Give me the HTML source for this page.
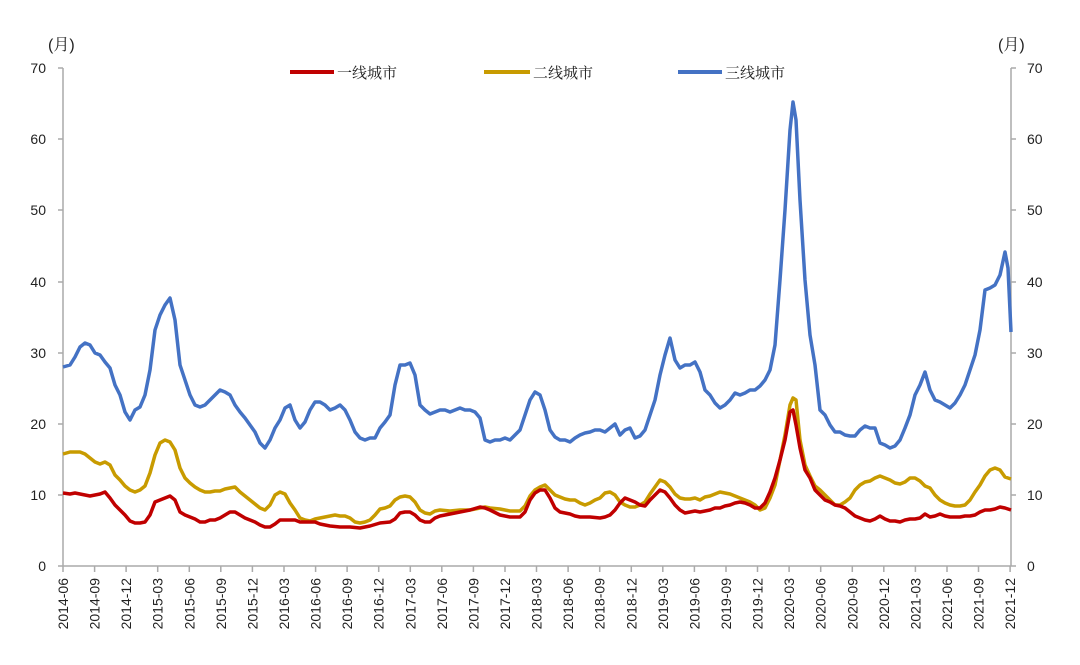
<!DOCTYPE html>
<html><head><meta charset="utf-8"><style>
body{margin:0;background:#fff}
svg text{font-family:"Liberation Sans","Noto Serif CJK SC",sans-serif;fill:#222}
</style></head><body>
<svg width="1080" height="660" viewBox="0 0 1080 660" xmlns="http://www.w3.org/2000/svg">
<g stroke="#aaa" stroke-width="1.5" fill="none">
<line x1="63" y1="68" x2="63" y2="566"/>
<line x1="1011" y1="68" x2="1011" y2="566"/>
<line x1="58" y1="566" x2="1016" y2="566"/>
<path d="M58 68H63M58 139H63M58 210H63M58 282H63M58 353H63M58 424H63M58 495H63M1011 68H1016M1011 139H1016M1011 210H1016M1011 282H1016M1011 353H1016M1011 424H1016M1011 495H1016"/>
<path id="xt" d=""/>
</g>
<g font-size="14" text-anchor="end">
<text x="46" y="73">70</text><text x="46" y="144">60</text><text x="46" y="215">50</text><text x="46" y="287">40</text><text x="46" y="358">30</text><text x="46" y="429">20</text><text x="46" y="500">10</text><text x="46" y="571">0</text>
</g>
<g font-size="14">
<text x="1027" y="73">70</text><text x="1027" y="144">60</text><text x="1027" y="215">50</text><text x="1027" y="287">40</text><text x="1027" y="358">30</text><text x="1027" y="429">20</text><text x="1027" y="500">10</text><text x="1027" y="571">0</text>
</g>
<text x="48" y="50" font-size="16">(月)</text>
<text x="998" y="50" font-size="16">(月)</text>
<g id="xl" font-size="14"></g>
<line x1="290" y1="72" x2="334" y2="72" stroke="#c00000" stroke-width="4"/>
<text x="337" y="78" font-size="15">一线城市</text>
<line x1="484" y1="72" x2="530" y2="72" stroke="#c89b00" stroke-width="4"/>
<text x="533" y="78" font-size="15">二线城市</text>
<line x1="678" y1="72" x2="722" y2="72" stroke="#4472c4" stroke-width="4"/>
<text x="725" y="78" font-size="15">三线城市</text>
<g fill="none" stroke-width="3.5" stroke-linejoin="round">
<polyline stroke="#4472c4" points="63,367 70,365 75,357 80,347 85,343 90,345 95,353 100,355 105,362 110,368 115,385 120,395 125,412 130,420 135,410 140,407 145,395 150,370 155,330 160,315 165,305 170,298 175,320 180,365 185,380 190,395 195,405 200,407 205,405 210,400 215,395 220,390 225,392 230,395 235,405 240,412 245,418 250,425 255,432 260,443 265,448 270,440 275,428 280,420 285,408 290,405 295,420 300,428 305,422 310,410 315,402 320,402 325,405 330,410 335,408 340,405 345,410 350,420 355,432 360,438 365,440 370,438 375,438 380,428 385,422 390,415 395,385 400,365 405,365 410,363 415,375 420,405 425,410 430,414 435,412 440,410 445,410 450,412 455,410 460,408 465,410 470,410 475,412 480,418 485,440 490,442 495,440 500,440 505,438 510,440 515,435 520,430 525,415 530,400 535,392 540,395 545,410 550,430 555,437 560,440 565,440 570,442 575,438 580,435 585,433 590,432 595,430 600,430 605,432 610,428 615,424 620,435 625,430 630,428 635,438 640,436 645,430 650,415 655,400 660,375 665,355 670,338 675,360 680,368 685,365 690,365 695,362 700,372 705,390 710,395 715,403 720,408 725,405 730,400 735,393 740,395 745,393 750,390 755,390 760,386 765,380 770,370 775,345 780,280 785,210 790,130 793,102 796,120 800,200 805,280 810,335 815,365 820,410 825,415 830,425 835,432 840,432 845,435 850,436 855,436 860,430 865,426 870,428 875,428 880,443 885,445 890,448 895,446 900,440 905,428 910,415 915,395 920,385 925,372 930,390 935,400 940,402 945,405 950,408 955,403 960,395 965,385 970,370 975,355 980,330 985,290 990,288 995,285 1000,275 1005,252 1008,268 1011,332"/>
<polyline stroke="#c89b00" points="63,454 70,452 80,452 85,454 90,458 95,462 100,464 105,462 110,465 115,475 120,480 125,486 130,490 135,492 140,490 145,486 150,473 155,455 160,443 165,440 170,442 175,450 180,468 185,478 190,483 195,487 200,490 205,492 210,492 215,491 220,491 225,489 230,488 235,487 240,492 245,496 250,500 255,504 260,508 265,510 270,505 275,495 280,492 285,494 290,503 295,510 300,518 305,520 310,521 315,519 320,518 325,517 330,516 335,515 340,516 345,516 350,518 355,522 360,523 365,522 370,520 375,515 380,509 385,508 390,506 395,500 400,497 405,496 410,497 415,502 420,510 425,513 430,514 435,511 440,510 450,511 460,510 470,510 480,508 485,507 490,508 500,509 510,511 520,511 525,506 530,496 535,490 540,487 545,485 550,490 555,495 560,497 565,499 570,500 575,500 580,503 585,505 590,503 595,500 600,498 605,493 610,492 615,495 620,502 625,505 630,507 635,507 640,505 645,502 650,494 655,487 660,480 665,482 670,487 675,494 680,498 685,499 690,499 695,498 700,500 705,497 710,496 715,494 720,492 725,493 730,494 735,496 740,498 745,500 750,502 755,505 760,510 765,508 770,498 775,485 780,460 785,435 790,405 793,398 796,400 800,440 805,465 810,476 815,486 820,490 825,495 830,500 835,505 840,505 845,502 850,498 855,490 860,485 865,482 870,481 875,478 880,476 885,478 890,480 895,483 900,484 905,482 910,478 915,478 920,481 925,486 930,488 935,495 940,500 945,503 950,505 955,506 960,506 965,505 970,500 975,492 980,485 985,476 990,470 995,468 1000,470 1005,477 1011,479"/>
<polyline stroke="#c00000" points="63,493 70,494 75,493 80,494 90,496 100,494 105,492 110,498 115,505 120,510 125,515 130,521 135,523 140,523 145,522 150,515 155,502 160,500 165,498 170,496 175,500 180,512 185,515 190,517 195,519 200,522 205,522 210,520 215,520 220,518 225,515 230,512 235,512 240,515 245,518 250,520 255,522 260,525 265,527 270,527 275,524 280,520 285,520 290,520 295,520 300,522 305,522 310,522 315,522 320,524 330,526 340,527 350,527 360,528 370,526 380,523 390,522 395,519 400,513 405,512 410,512 415,515 420,520 425,522 430,522 435,518 440,516 450,514 460,512 470,510 480,507 485,508 490,510 500,515 510,517 520,517 525,512 530,500 535,493 540,490 545,490 550,498 555,508 560,512 565,513 570,514 575,516 580,517 590,517 600,518 605,517 610,515 615,510 620,503 625,498 630,500 635,502 640,505 645,506 650,500 655,495 660,490 665,492 670,498 675,505 680,510 685,513 690,512 695,511 700,512 710,510 715,508 720,508 725,506 730,505 735,503 740,502 745,503 750,505 755,508 760,508 765,503 770,492 775,478 780,460 785,440 790,412 793,410 796,425 800,448 805,470 810,478 815,490 820,495 825,500 830,502 835,505 840,506 845,508 850,512 855,516 860,518 865,520 870,521 875,519 880,516 885,519 890,521 895,521 900,522 905,520 910,519 915,519 920,518 925,514 930,517 935,516 940,514 945,516 950,517 955,517 960,517 965,516 970,516 975,515 980,512 985,510 990,510 995,509 1000,507 1005,508 1011,510"/>
</g>
<script>
var y=2014,m=6,d="",g=document.getElementById('xl');
for(var i=0;i<=30;i++){var x=63+i*31.57;d+="M"+x.toFixed(1)+" 566V572";
var t=document.createElementNS("http://www.w3.org/2000/svg","text");
t.setAttribute("transform","translate("+(x+5).toFixed(1)+",578) rotate(-90)");
t.setAttribute("text-anchor","end");t.textContent=y+"-"+(m<10?"0":"")+m;g.appendChild(t);
m+=3;if(m>12){m-=12;y++;}}
document.getElementById('xt').setAttribute("d",d);
</script>
</svg>
</body></html>
